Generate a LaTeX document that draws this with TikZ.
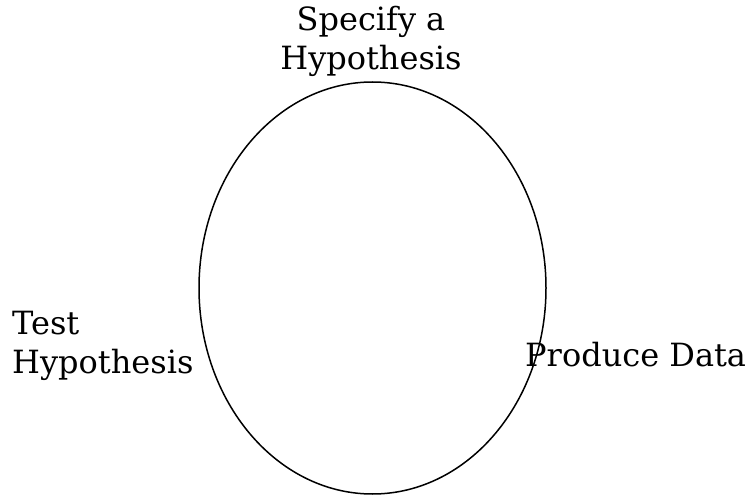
\documentclass[tikz,border=0pt]{standalone}
\usepackage{fontspec}
\setmainfont{DejaVu Serif}
\usetikzlibrary{shapes.geometric}

\begin{document}
\begin{tikzpicture}[x=1pt,y=1pt,
		every node/.style={font=\fontsize{32}{39}\selectfont},
		lbl/.style={align=left,inner sep=0pt}]
	\useasboundingbox (0,0) rectangle (752,496);
	%\tikzstyle{every state}=[fill=none]

	\node[ellipse,draw,line width=1.5pt,minimum width=347pt,minimum height=412pt,inner sep=0pt] (cyc) at (372.5,208) {};
	\node[lbl,align=center] (spec) at (371,455) {Specify a\\Hypothesis};
	\node[lbl,anchor=west] (test) at (12,150) {Test\\Hypothesis};
	\node[lbl,anchor=west] (prod) at (525,141) {Produce Data};
\end{tikzpicture}
\end{document}
